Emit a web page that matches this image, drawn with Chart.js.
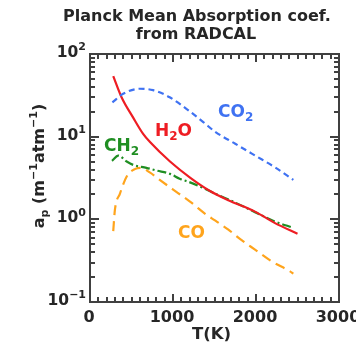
<!DOCTYPE html>
<html>
<head>
<meta charset="utf-8">
<script src="https://cdn.jsdelivr.net/npm/chart.js@4/dist/chart.umd.min.js"></script>
<style>
  html, body { margin: 0; padding: 0; background: #ffffff; }
  canvas { display: block; }
</style>
</head>
<body>
<canvas id="chart" width="356" height="349"></canvas>
<script>
// Planck mean absorption coefficients (m^-1 atm^-1) against temperature (K)
const tempH2O = [280, 380, 520, 640, 723, 964, 1205, 1446, 1667, 1988, 2229, 2500];
const absH2O  = [54, 30, 17, 10.8, 8.6, 5.0, 3.2, 2.2, 1.7, 1.24, 0.9, 0.67];

const tempCO2 = [270, 400, 600, 760, 960, 1165, 1365, 1506, 1750, 1990, 2230, 2450];
const absCO2  = [26, 33, 38, 36.5, 30, 21.6, 15, 11.5, 8.2, 5.9, 4.25, 3.0];

const tempCH2 = [265, 341, 442, 522, 680, 800, 964, 1080, 1205, 1365, 1506, 1747, 1988, 2229, 2450];
const absCH2  = [5.1, 5.9, 5.0, 4.55, 4.2, 3.9, 3.55, 3.1, 2.8, 2.4, 2.05, 1.6, 1.22, 0.94, 0.79];

const tempCO = [280, 300, 361, 442, 540, 610, 720, 840, 1040, 1205, 1406, 1506, 1667, 1827, 1988, 2189, 2410, 2450];
const absCO  = [0.72, 1.3, 2.05, 3.3, 4.05, 4.2, 3.7, 3.0, 2.15, 1.64, 1.13, 0.97, 0.75, 0.56, 0.43, 0.31, 0.235, 0.22];

// Axis ticks
const xMajorTicks = [0, 1000, 2000, 3000];
const xTickLabels = ['0', '1000', '2000', '3000'];
const xMinorStep = 100;
const yMajorTicks = [0.1, 1, 10, 100];
const yTickExponents = ['\u22121', '0', '1', '2'];

const titleLines = ['Planck Mean Absorption coef.', 'from RADCAL'];

const FONT = '"DejaVu Sans", sans-serif';
const INK = '#262626';
const FRAME = '#404040';

function pairs(xs, ys) { return xs.map((x, i) => ({ x: x, y: ys[i] })); }

// Draw text made of normal / superscript (1) / subscript (-1) runs
function richText(ctx, x, y, parts, size, align) {
  const fontFor = m => 'bold ' + (m === 0 ? size : Math.round(size * 0.68)) + 'px ' + FONT;
  let total = 0;
  parts.forEach(p => { ctx.font = fontFor(p[1]); total += ctx.measureText(p[0]).width; });
  let cx = align === 'center' ? x - total / 2 : align === 'right' ? x - total : x;
  ctx.textAlign = 'left';
  ctx.textBaseline = 'alphabetic';
  parts.forEach(p => {
    ctx.font = fontFor(p[1]);
    const dy = p[1] === 1 ? -size * 0.42 : p[1] === -1 ? size * 0.24 : 0;
    ctx.fillText(p[0], cx, y + dy);
    cx += ctx.measureText(p[0]).width;
  });
}

// Frame with inward ticks on all four sides, plus all text
const decorations = {
  id: 'decorations',
  afterDraw(chart) {
    const ctx = chart.ctx;
    const a = chart.chartArea;
    const xs = chart.scales.x, ys = chart.scales.y;
    ctx.save();

    ctx.strokeStyle = FRAME;
    ctx.lineWidth = 2;
    ctx.strokeRect(a.left, a.top, a.right - a.left, a.bottom - a.top);

    ctx.fillStyle = FRAME;
    for (let v = 0; v <= 3000; v += xMinorStep) {
      const px = Math.round(xs.getPixelForValue(v));
      const len = xMajorTicks.includes(v) ? 8 : 5;
      ctx.fillRect(px - 1, a.bottom - len, 2, len);
      ctx.fillRect(px - 1, a.top, 2, len);
    }
    [0.1, 1, 10].forEach(d => {
      for (let m = 1; m <= 10; m++) {
        const py = Math.round(ys.getPixelForValue(d * m));
        const len = (m === 1 || m === 10) ? 9 : 5;
        ctx.fillRect(a.left, py - 1, len, 2);
        ctx.fillRect(a.right - len, py - 1, len, 2);
      }
    });

    ctx.fillStyle = INK;
    ctx.font = 'bold 16px ' + FONT;
    ctx.textAlign = 'center';
    ctx.textBaseline = 'alphabetic';
    xMajorTicks.forEach((v, i) => {
      ctx.fillText(xTickLabels[i], xs.getPixelForValue(v) - 1, a.bottom + 20);
    });
    yMajorTicks.forEach((v, i) => {
      richText(ctx, a.left - 4, ys.getPixelForValue(v) + 3, [['10', 0], [yTickExponents[i], 1]], 15.5, 'right');
    });

    richText(ctx, (a.left + a.right) / 2 - 3, 339, [['T(K)', 0]], 16.5, 'center');
    ctx.save();
    ctx.translate(44, 166);
    ctx.rotate(-Math.PI / 2);
    richText(ctx, 0, 0, [['a', 0], ['p', -1], [' (m', 0], ['\u22121', 1], ['atm', 0], ['\u22121', 1], [')', 0]], 16, 'center');
    ctx.restore();

    richText(ctx, 197, 21, [[titleLines[0], 0]], 16, 'center');
    richText(ctx, 196, 39, [[titleLines[1], 0]], 16, 'center');

    // species labels in their curve colours
    chart.data.datasets.forEach(ds => {
      ctx.fillStyle = ds.borderColor;
      richText(ctx, ds.labelAt[0], ds.labelAt[1], ds.labelParts, 17, 'left');
    });
    ctx.restore();
  }
};

new Chart(document.getElementById('chart'), {
  type: 'line',
  data: {
    datasets: [
      {
        label: 'CO2', data: pairs(tempCO2, absCO2),
        borderColor: '#3f72f2', borderDash: [6, 4],
        labelParts: [['CO', 0], ['2', -1]], labelAt: [218, 117]
      },
      {
        label: 'H2O', data: pairs(tempH2O, absH2O),
        borderColor: '#ee1d23', borderDash: [],
        labelParts: [['H', 0], ['2', -1], ['O', 0]], labelAt: [155, 136]
      },
      {
        label: 'CH2', data: pairs(tempCH2, absCH2),
        borderColor: '#1f8e22', borderDash: [9, 3, 2, 3],
        labelParts: [['CH', 0], ['2', -1]], labelAt: [104, 151]
      },
      {
        label: 'CO', data: pairs(tempCO, absCO),
        borderColor: '#ffa41c', borderDash: [10, 6],
        labelParts: [['CO', 0]], labelAt: [178, 238]
      }
    ]
  },
  options: {
    responsive: false,
    animation: false,
    devicePixelRatio: 1,
    layout: { padding: { left: 90, right: 17, top: 54, bottom: 47 } },
    elements: {
      point: { radius: 0 },
      line: { borderWidth: 2.2, cubicInterpolationMode: 'monotone', fill: false }
    },
    plugins: { legend: { display: false }, tooltip: { enabled: false }, title: { display: false } },
    scales: {
      x: { type: 'linear', min: 0, max: 3000, display: false },
      y: { type: 'logarithmic', min: 0.1, max: 100, display: false }
    }
  },
  plugins: [decorations]
});
</script>
</body>
</html>
